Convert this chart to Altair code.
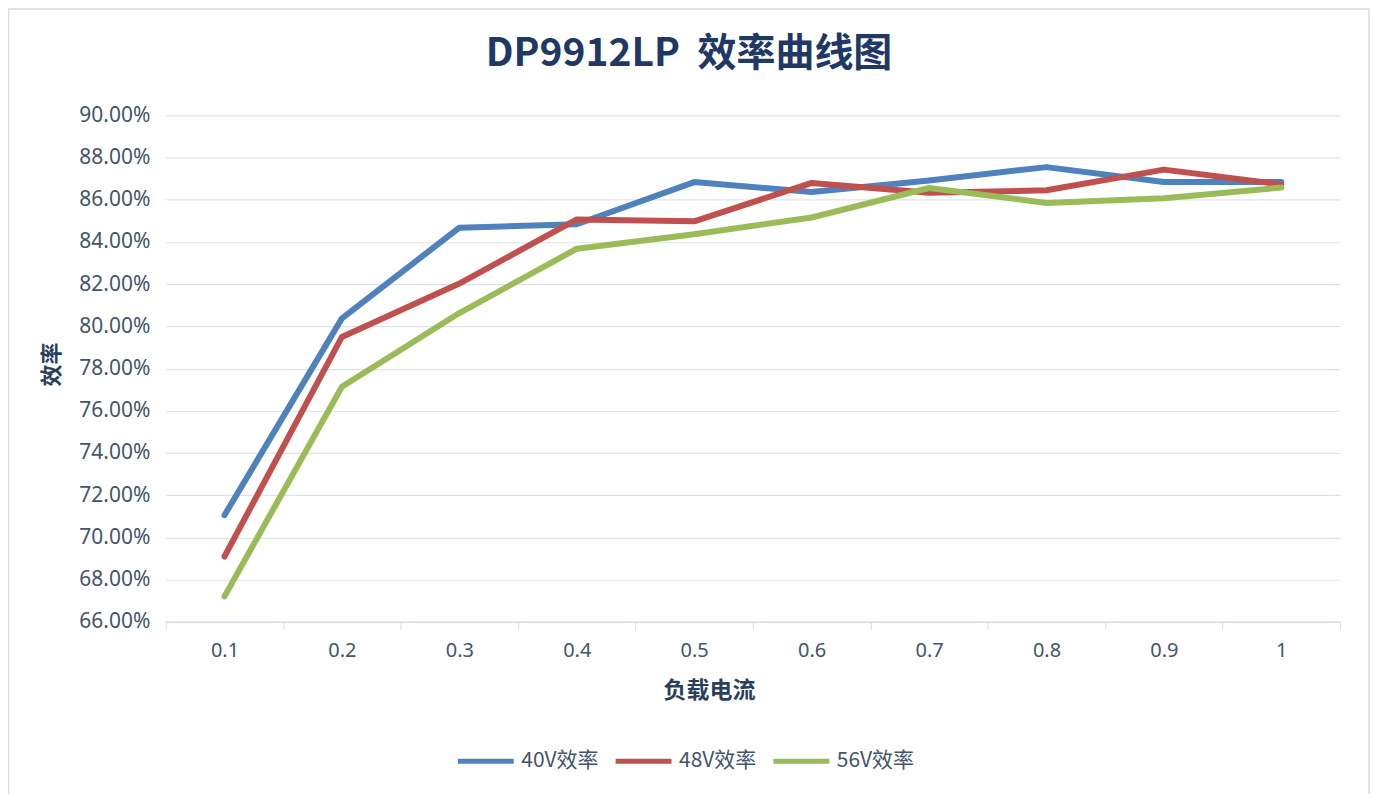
import altair as alt
import pandas as pd

# ---- data ----
x_labels = ["0.1", "0.2", "0.3", "0.4", "0.5", "0.6", "0.7", "0.8", "0.9", "1"]
eff_40v = [71.05, 80.38, 84.68, 84.84, 86.84, 86.37, 86.92, 87.55, 86.84, 86.84]
eff_48v = [69.09, 79.50, 82.03, 85.07, 84.98, 86.80, 86.33, 86.45, 87.43, 86.73]
eff_56v = [67.20, 77.14, 80.63, 83.68, 84.37, 85.16, 86.56, 85.85, 86.07, 86.58]
series_names = ["40V效率", "48V效率", "56V效率"]
series_colors = ["#4f81bd", "#c0504d", "#9bbb59"]
y_ticks = [66, 68, 70, 72, 74, 76, 78, 80, 82, 84, 86, 88, 90]

rows = []
for name, vals in zip(series_names, [eff_40v, eff_48v, eff_56v]):
    for xl, v in zip(x_labels, vals):
        rows.append({"负载电流": xl, "效率": v, "series": name})
df = pd.DataFrame(rows)

W, H = 1176, 507
PAD = {"left": 158, "top": 107, "right": 30, "bottom": 185}

LABEL_COLOR = "#44546a"
TITLE_COLOR = "#1f3864"
CJK = "Noto Sans CJK SC"

frame = alt.Chart(alt.Data(values=[{"k": 1}])).mark_rect(
    filled=False, stroke="#d3dce6", strokeWidth=1.5
).encode(
    x=alt.value(-157.5), x2=alt.value(W + 29),
    y=alt.value(-106.5), y2=alt.value(H + PAD["bottom"] + 10),
)

lines = alt.Chart(df).mark_line(
    strokeWidth=6, strokeCap="round", strokeJoin="round"
).encode(
    x=alt.X(
        "负载电流:N", sort=x_labels,
        scale=alt.Scale(type="band", paddingInner=0, paddingOuter=0),
        axis=alt.Axis(
            title="负载电流", labelAngle=0, grid=False,
            domain=True, domainColor="#d5dde6", domainWidth=1.5,
            ticks=True, tickColor="#d5dde6", tickSize=8, tickBand="extent",
            labelPadding=11, labelFont="Noto Sans", labelFontSize=20,
            labelColor=LABEL_COLOR,
            titleFont=CJK, titleFontSize=23, titleFontWeight="bold",
            titleColor="#2b3f5c", titleX=544, titleY=69,
            titleAlign="center", titleBaseline="middle",
        ),
    ),
    y=alt.Y(
        "效率:Q",
        scale=alt.Scale(domain=[66, 90], nice=False, zero=False),
        axis=alt.Axis(
            title="效率", values=y_ticks,
            labelExpr="format(datum.value, '.2f') + '%'",
            grid=True, gridColor="#dde4ec", gridWidth=1.2,
            domain=False, ticks=False, tickSize=0, labelPadding=16,
            labelFont="Noto Sans", labelFontSize=21, labelColor=LABEL_COLOR,
            titleFont=CJK, titleFontSize=22, titleFontWeight="bold",
            titleColor="#2b3f5c", titleX=-114, titleY=249, titleAngle=270,
            titleAlign="center", titleBaseline="middle",
        ),
    ),
    color=alt.Color(
        "series:N", sort=series_names,
        scale=alt.Scale(domain=series_names, range=series_colors),
        legend=alt.Legend(
            title=None, orient="none", direction="horizontal",
            legendX=290, legendY=616,
            symbolType="stroke", symbolSize=3136, symbolStrokeWidth=5,
            labelFont=CJK, labelFontSize=21, labelColor=LABEL_COLOR,
            labelOffset=5, columnPadding=6,
        ),
    ),
)

chart = alt.layer(frame, lines).properties(
    width=W, height=H,
    autosize=alt.AutoSizeParams(type="none"),
    padding=PAD,
    background="white",
    title=alt.TitleParams(
        "DP9912LP\u00a0\u00a0效率曲线图", font=CJK, fontSize=39, fontWeight="bold",
        color=TITLE_COLOR, anchor="middle", frame="group", dx=-64,
        baseline="alphabetic", offset=-97,
    ),
).configure_view(stroke=None)

chart.save("out.html", embed_options={"renderer": "svg", "actions": False})
